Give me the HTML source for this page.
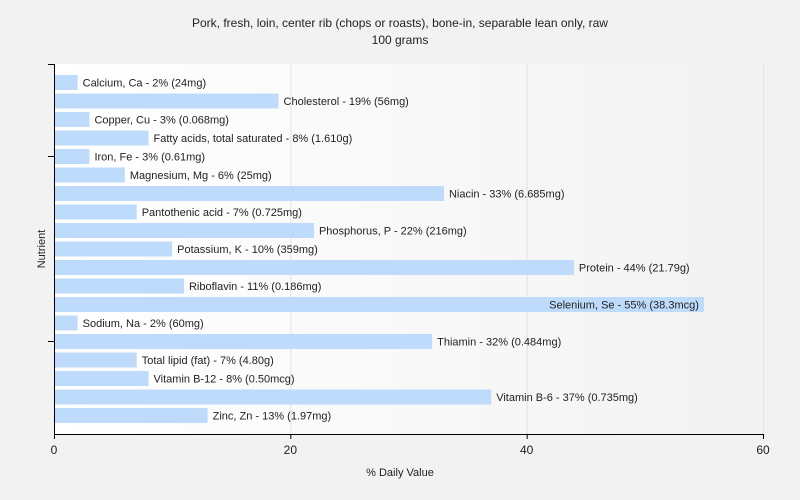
<!DOCTYPE html>
<html><head><meta charset="utf-8"><style>
body{margin:0;background:#f2f2f2;}
svg{display:block;font-family:"Liberation Sans",Arial,sans-serif;}
</style></head><body>
<svg id="chart" width="800" height="500">
<defs><linearGradient id="bg" x1="0" x2="1" y1="0" y2="0"><stop offset="0" stop-color="#ffffff"/><stop offset="1" stop-color="#f2f2f2"/></linearGradient></defs>
<rect width="800" height="500" fill="#f2f2f2"/>
<text x="400" y="27" font-size="12" text-anchor="middle" fill="#222">Pork, fresh, loin, center rib (chops or roasts), bone-in, separable lean only, raw</text>
<text x="400" y="44" font-size="12" text-anchor="middle" fill="#222">100 grams</text>
<rect x="55" y="64" width="708" height="370" fill="url(#bg)"/>
<g id="grid"></g><g id="bars"></g>
<line x1="54.5" y1="64" x2="54.5" y2="434" stroke="#000"/>
<line x1="54" y1="434.5" x2="763" y2="434.5" stroke="#000"/>
<g id="yticks"></g><g id="xticks"></g>
<text x="400" y="476" font-size="11" text-anchor="middle" fill="#222">% Daily Value</text>
<text transform="translate(45,249) rotate(-90)" font-size="11" text-anchor="middle" fill="#222">Nutrient</text>
</svg>
<script>
const labels=["Calcium, Ca - 2% (24mg)","Cholesterol - 19% (56mg)","Copper, Cu - 3% (0.068mg)","Fatty acids, total saturated - 8% (1.610g)","Iron, Fe - 3% (0.61mg)","Magnesium, Mg - 6% (25mg)","Niacin - 33% (6.685mg)","Pantothenic acid - 7% (0.725mg)","Phosphorus, P - 22% (216mg)","Potassium, K - 10% (359mg)","Protein - 44% (21.79g)","Riboflavin - 11% (0.186mg)","Selenium, Se - 55% (38.3mcg)","Sodium, Na - 2% (60mg)","Thiamin - 32% (0.484mg)","Total lipid (fat) - 7% (4.80g)","Vitamin B-12 - 8% (0.50mcg)","Vitamin B-6 - 37% (0.735mg)","Zinc, Zn - 13% (1.97mg)"];
const values=[2,19,3,8,3,6,33,7,22,10,44,11,55,2,32,7,8,37,13];
const xTicks=[0,20,40,60];
const NS="http://www.w3.org/2000/svg";
const x=v=>54+v*(709/60);
const yc=i=>82.5+i*18.5;
function mk(tag,attrs,parent){const e=document.createElementNS(NS,tag);for(const k in attrs)e.setAttribute(k,attrs[k]);document.getElementById(parent).appendChild(e);return e;}
xTicks.forEach(t=>{
  if(t>0){const g=mk("line",{x1:x(t)+0.5,x2:x(t)+0.5,y1:64,y2:434,stroke:"#e2e2e2"},"grid");
  
  }
  const tk=mk("line",{x1:x(t)+0.5,x2:x(t)+0.5,y1:434,y2:439,stroke:"#000"},"xticks");
  
  
  const tl=mk("text",{x:x(t),y:454,"font-size":12,"text-anchor":"middle",fill:"#222"},"xticks");
  tl.textContent=t;
  
  
});
[64,156,341].forEach(y=>{const l=mk("line",{x1:48,x2:55,y1:y+0.5,y2:y+0.5,stroke:"#000"},"yticks");
  
  });
values.forEach((v,i)=>{
  const r=mk("rect",{x:55,y:yc(i)-7.5,width:Math.max(0,x(v)-55),height:15,fill:"#bfdbfb"},"bars");
  
  
  const w=labels[i].length*6;
  let tx=x(v)+5,anchor="start";
  if(tx+w>763){tx=x(v)-5;anchor="end";}
  const t=mk("text",{x:tx,y:yc(i)+4,"font-size":11,"text-anchor":anchor,fill:"#222"},"bars");
  t.textContent=labels[i];
  
  
});
</script>
</body></html>
